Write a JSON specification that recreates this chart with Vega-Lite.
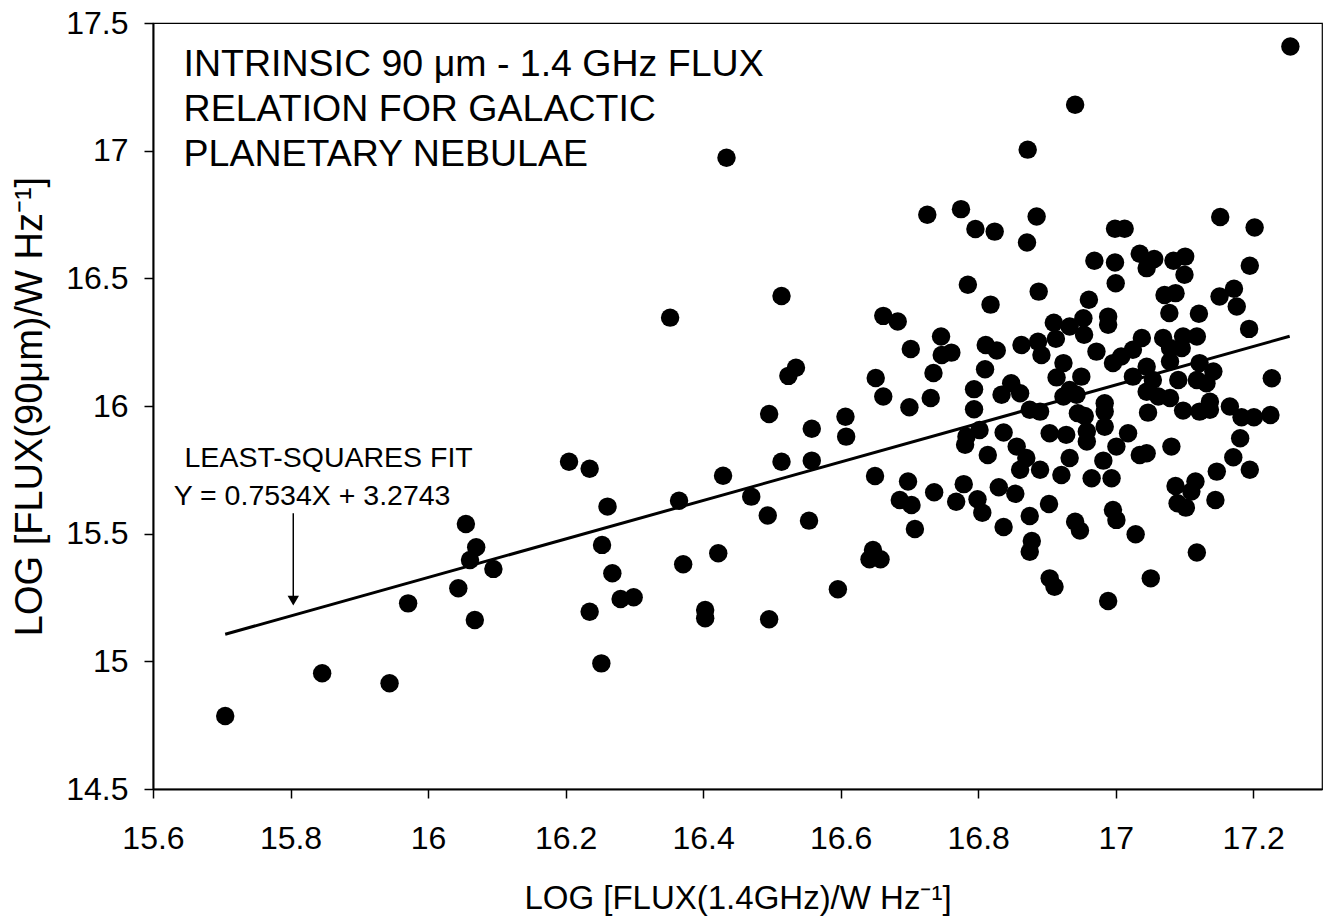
{
  "$schema": "https://vega.github.io/schema/vega-lite/v6.json",
  "width": 1169,
  "height": 766,
  "autosize": {"type": "none"},
  "padding": {"left": 153, "top": 23, "right": 7, "bottom": 131},
  "background": "white",
  "config": {
    "font": "Liberation Sans",
    "view": {"stroke": "black", "strokeWidth": 1.2},
    "axis": {
      "grid": false,
      "domainColor": "black",
      "domainWidth": 2,
      "tickColor": "black",
      "tickWidth": 1.5,
      "tickSize": 9,
      "labelColor": "black",
      "titleColor": "black",
      "labelFont": "Liberation Sans",
      "titleFont": "Liberation Sans",
      "labelFontSize": 32,
      "titleFontSize": 33,
      "titleFontWeight": "normal"
    }
  },
  "datasets": {
    "pts": [
      {"x":15.705,"y":14.786},{"x":15.846,"y":14.953},{"x":15.944,"y":14.914},{"x":15.971,"y":15.227},{"x":16.044,"y":15.286},{"x":16.055,"y":15.538},{"x":16.070,"y":15.447},{"x":16.061,"y":15.397},{"x":16.095,"y":15.362},{"x":16.068,"y":15.162},
      {"x":16.205,"y":15.782},{"x":16.235,"y":15.754},{"x":16.261,"y":15.606},{"x":16.253,"y":15.456},{"x":16.268,"y":15.345},{"x":16.235,"y":15.194},{"x":16.280,"y":15.244},{"x":16.299,"y":15.251},{"x":16.252,"y":14.992},{"x":16.352,"y":16.346},
      {"x":16.365,"y":15.629},{"x":16.371,"y":15.380},{"x":16.403,"y":15.201},{"x":16.403,"y":15.169},{"x":16.422,"y":15.423},{"x":16.429,"y":15.727},{"x":16.434,"y":16.972},{"x":16.470,"y":15.645},{"x":16.494,"y":15.571},{"x":16.496,"y":15.969},
      {"x":16.496,"y":15.165},{"x":16.514,"y":16.431},{"x":16.524,"y":16.118},{"x":16.535,"y":16.150},{"x":16.514,"y":15.782},{"x":16.558,"y":15.911},{"x":16.558,"y":15.786},{"x":16.554,"y":15.551},{"x":16.596,"y":15.282},{"x":16.607,"y":15.958},
      {"x":16.608,"y":15.880},{"x":16.662,"y":16.353},{"x":16.683,"y":16.331},{"x":16.651,"y":16.110},{"x":16.662,"y":16.037},{"x":16.650,"y":15.726},{"x":16.647,"y":15.436},{"x":16.642,"y":15.400},{"x":16.658,"y":15.400},{"x":16.702,"y":16.223},
      {"x":16.700,"y":15.995},{"x":16.698,"y":15.704},{"x":16.686,"y":15.632},{"x":16.703,"y":15.612},{"x":16.708,"y":15.518},{"x":16.726,"y":16.749},{"x":16.731,"y":16.031},{"x":16.735,"y":16.129},{"x":16.736,"y":15.662},{"x":16.746,"y":16.272},
      {"x":16.747,"y":16.200},{"x":16.761,"y":16.209},{"x":16.775,"y":16.771},{"x":16.785,"y":16.475},{"x":16.796,"y":16.693},{"x":16.824,"y":16.683},{"x":16.818,"y":16.397},{"x":16.811,"y":16.239},{"x":16.827,"y":16.217},{"x":16.810,"y":16.144},
      {"x":16.794,"y":16.066},{"x":16.794,"y":15.987},{"x":16.783,"y":15.880},{"x":16.802,"y":15.906},{"x":16.781,"y":15.848},{"x":16.814,"y":15.808},{"x":16.779,"y":15.694},{"x":16.768,"y":15.625},{"x":16.799,"y":15.635},{"x":16.806,"y":15.582},
      {"x":16.830,"y":15.682},{"x":16.837,"y":15.526},{"x":16.834,"y":16.044},{"x":16.848,"y":16.089},{"x":16.861,"y":16.050},{"x":16.837,"y":15.896},{"x":16.856,"y":15.841},{"x":16.854,"y":15.656},{"x":16.863,"y":16.239},{"x":16.870,"y":15.796},
      {"x":16.861,"y":15.750},{"x":16.890,"y":15.750},{"x":16.875,"y":15.985},{"x":16.890,"y":15.978},{"x":16.875,"y":15.569},{"x":16.878,"y":15.471},{"x":16.875,"y":15.429},{"x":16.885,"y":16.742},{"x":16.871,"y":16.640},{"x":16.888,"y":16.448},
      {"x":16.887,"y":16.252},{"x":16.892,"y":16.200},{"x":16.872,"y":17.004},{"x":16.903,"y":15.616},{"x":16.904,"y":15.325},{"x":16.911,"y":15.292},{"x":16.904,"y":15.893},{"x":16.910,"y":16.326},{"x":16.913,"y":16.263},{"x":16.914,"y":16.112},
      {"x":16.921,"y":15.730},{"x":16.924,"y":16.168},{"x":16.933,"y":16.311},{"x":16.953,"y":16.344},{"x":16.954,"y":16.279},{"x":16.941,"y":17.180},{"x":16.961,"y":16.416},{"x":16.969,"y":16.569},{"x":16.999,"y":16.694},{"x":17.013,"y":16.694},
      {"x":16.999,"y":16.562},{"x":17.000,"y":16.481},{"x":16.989,"y":16.350},{"x":16.989,"y":16.318},{"x":16.972,"y":16.213},{"x":16.950,"y":16.115},{"x":16.933,"y":16.063},{"x":16.943,"y":16.044},{"x":16.924,"y":16.037},{"x":16.945,"y":15.972},
      {"x":16.955,"y":15.961},{"x":16.928,"y":15.887},{"x":16.958,"y":15.900},{"x":16.958,"y":15.861},{"x":16.933,"y":15.796},{"x":16.965,"y":15.717},{"x":16.941,"y":15.547},{"x":16.948,"y":15.512},{"x":16.984,"y":16.011},{"x":16.984,"y":15.978},
      {"x":16.984,"y":15.919},{"x":16.982,"y":15.786},{"x":16.994,"y":15.717},{"x":16.996,"y":15.593},{"x":17.001,"y":15.554},{"x":16.989,"y":15.236},{"x":17.001,"y":15.841},{"x":16.996,"y":16.168},{"x":17.008,"y":16.194},{"x":17.025,"y":16.220},
      {"x":17.038,"y":16.266},{"x":17.025,"y":16.115},{"x":17.018,"y":15.893},{"x":17.035,"y":16.596},{"x":17.045,"y":16.540},{"x":17.056,"y":16.576},{"x":17.045,"y":16.154},{"x":17.054,"y":16.102},{"x":17.045,"y":16.056},{"x":17.062,"y":16.037},
      {"x":17.079,"y":16.031},{"x":17.047,"y":15.974},{"x":17.035,"y":15.808},{"x":17.045,"y":15.815},{"x":17.029,"y":15.498},{"x":17.051,"y":15.325},{"x":17.069,"y":16.266},{"x":17.079,"y":16.227},{"x":17.096,"y":16.227},{"x":17.079,"y":16.174},
      {"x":17.091,"y":16.102},{"x":17.098,"y":16.272},{"x":17.118,"y":16.272},{"x":17.071,"y":16.435},{"x":17.087,"y":16.442},{"x":17.078,"y":16.364},{"x":17.084,"y":16.569},{"x":17.101,"y":16.585},{"x":17.100,"y":16.514},{"x":17.121,"y":16.361},
      {"x":17.122,"y":16.168},{"x":17.142,"y":16.135},{"x":17.118,"y":16.102},{"x":17.132,"y":16.089},{"x":17.098,"y":15.982},{"x":17.122,"y":15.978},{"x":17.137,"y":16.017},{"x":17.137,"y":15.985},{"x":17.081,"y":15.841},{"x":17.087,"y":15.687},
      {"x":17.116,"y":15.704},{"x":17.110,"y":15.665},{"x":17.090,"y":15.619},{"x":17.102,"y":15.602},{"x":17.118,"y":15.426},{"x":17.147,"y":15.743},{"x":17.145,"y":15.632},{"x":17.152,"y":16.740},{"x":17.202,"y":16.699},{"x":17.195,"y":16.549},
      {"x":17.151,"y":16.429},{"x":17.172,"y":16.459},{"x":17.176,"y":16.390},{"x":17.194,"y":16.302},{"x":17.166,"y":15.998},{"x":17.183,"y":15.956},{"x":17.201,"y":15.956},{"x":17.225,"y":15.965},{"x":17.227,"y":16.109},{"x":17.181,"y":15.874},
      {"x":17.171,"y":15.799},{"x":17.195,"y":15.750},{"x":17.254,"y":17.408}
    ],
    "fit": [{"x": 15.705, "y": 15.106}, {"x": 17.253, "y": 16.273}],
    "arrow": [{"x": 15.804, "y": 15.58, "y2": 15.25}],
    "arrowhead": [{"x": 15.804, "y": 15.238}],
    "title": [
      {"x": 15.6445, "y": 17.2935, "text": "INTRINSIC 90 μm - 1.4 GHz FLUX"},
      {"x": 15.6445, "y": 17.1144, "text": "RELATION FOR GALACTIC"},
      {"x": 15.6445, "y": 16.938, "text": "PLANETARY NEBULAE"}
    ],
    "note": [
      {"x": 15.8554, "y": 15.763, "text": "LEAST-SQUARES FIT"},
      {"x": 15.8313, "y": 15.612, "text": "Y = 0.7534X + 3.2743"}
    ]
  },
  "encoding": {
    "x": {
      "field": "x",
      "type": "quantitative",
      "scale": {"domain": [15.6, 17.3], "nice": false, "zero": false},
      "axis": {
        "values": [15.6, 15.8, 16, 16.2, 16.4, 16.6, 16.8, 17, 17.2],
        "format": "~g",
        "title": "LOG [FLUX(1.4GHz)/W Hz⁻¹]",
        "labelPadding": 25,
        "titlePadding": 28,
        "labelFlush": false,
        "labelOverlap": false
      }
    },
    "y": {
      "field": "y",
      "type": "quantitative",
      "scale": {"domain": [14.5, 17.5], "nice": false, "zero": false},
      "axis": {
        "values": [14.5, 15, 15.5, 16, 16.5, 17, 17.5],
        "format": "~g",
        "title": "LOG [FLUX(90μm)/W Hz⁻¹]",
        "titleFontSize": 38,
        "labelPadding": 16,
        "titlePadding": 16,
        "labelFlush": false,
        "labelOverlap": false
      }
    }
  },
  "layer": [
    {
      "data": {"name": "fit"},
      "mark": {"type": "line", "color": "black", "strokeWidth": 3}
    },
    {
      "data": {"name": "pts"},
      "mark": {"type": "circle", "size": 340, "color": "black", "opacity": 1}
    },
    {
      "data": {"name": "arrow"},
      "mark": {"type": "rule", "color": "black", "strokeWidth": 1.5},
      "encoding": {"y2": {"field": "y2"}}
    },
    {
      "data": {"name": "arrowhead"},
      "mark": {"type": "point", "shape": "triangle-down", "size": 130, "filled": true, "color": "black", "opacity": 1}
    },
    {
      "data": {"name": "title"},
      "mark": {"type": "text", "align": "left", "baseline": "alphabetic", "fontSize": 37.5, "font": "Liberation Sans", "color": "black"},
      "encoding": {"text": {"field": "text"}}
    },
    {
      "data": {"name": "note"},
      "mark": {"type": "text", "align": "center", "baseline": "alphabetic", "fontSize": 28.5, "font": "Liberation Sans", "color": "black"},
      "encoding": {"text": {"field": "text"}}
    }
  ]
}
